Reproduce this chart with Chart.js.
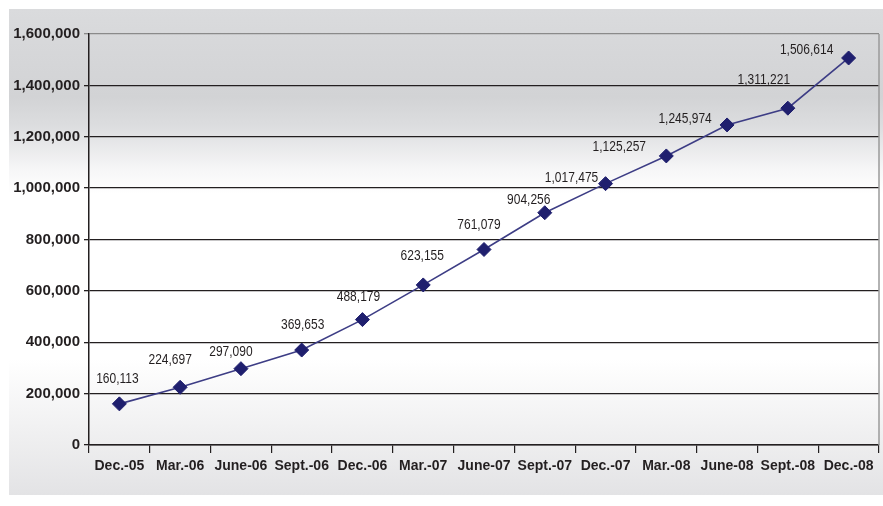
<!DOCTYPE html>
<html>
<head>
<meta charset="utf-8">
<script src="https://cdn.jsdelivr.net/npm/chart.js@4"></script>
<style>
  html,body{margin:0;padding:0;background:#fff;}
  #wrap{width:883px;height:506px;position:relative;}
</style>
</head>
<body>
<div id="wrap"><canvas id="c" width="883" height="506"></canvas></div>
<script>
const categories = ["Dec.-05","Mar.-06","June-06","Sept.-06","Dec.-06","Mar.-07","June-07","Sept.-07","Dec.-07","Mar.-08","June-08","Sept.-08","Dec.-08"];
const subscribers = [160113,224697,297090,369653,488179,623155,761079,904256,1017475,1125257,1245974,1311221,1506614];
const yTicks = [0,200000,400000,600000,800000,1000000,1200000,1400000,1600000];

// label placement offsets (px) relative to each point
const labelOffsets = [[-2,-25],[-10,-27],[-10,-17],[1,-25],[-4,-23],[-1,-29],[-5,-25],[-16,-13],[-34,-6],[-47,-9],[-42,-6],[-24,-28],[-42,-8]];

const bgPlugin = {
  id:'bg',
  beforeDraw(chart){
    const ctx = chart.ctx;
    ctx.save();
    ctx.fillStyle = '#ffffff';
    ctx.fillRect(0,0,chart.width,chart.height);
    const g = ctx.createLinearGradient(0,9,0,495);
    g.addColorStop(0.00,'#dadbdd');
    g.addColorStop(0.18,'#d2d3d5');
    g.addColorStop(0.24,'#dcdddf');
    g.addColorStop(0.33,'#f6f6f7');
    g.addColorStop(0.38,'#ffffff');
    g.addColorStop(0.72,'#ffffff');
    g.addColorStop(0.86,'#f1f1f2');
    g.addColorStop(1.00,'#e3e3e5');
    ctx.fillStyle = g;
    ctx.fillRect(9,9,874,486);
    ctx.restore();
  },
  afterDatasetsDraw(chart){
    const ctx = chart.ctx, a = chart.chartArea;
    ctx.save();
    ctx.strokeStyle = '#9a9a9a';
    ctx.lineWidth = 1.5;
    ctx.beginPath();
    ctx.moveTo(a.right, a.top);
    ctx.lineTo(a.right, a.bottom);
    ctx.stroke();
    // data labels (condensed look)
    const meta = chart.getDatasetMeta(0);
    ctx.font = '15px "Liberation Sans", Arial, sans-serif';
    ctx.fillStyle = '#231f20';
    ctx.textAlign = 'center';
    ctx.textBaseline = 'middle';
    const sx = 0.8;
    meta.data.forEach((pt,i)=>{
      const off = labelOffsets[i] || [0,-22];
      ctx.save();
      ctx.translate(pt.x + off[0], pt.y + off[1]);
      ctx.scale(sx,1);
      ctx.fillText(subscribers[i].toLocaleString('en-US'), 0, 0);
      ctx.restore();
    });
    ctx.restore();
  }
};

new Chart(document.getElementById('c'), {
  type:'line',
  data:{
    labels:categories,
    datasets:[{
      data:subscribers,
      borderColor:'#3d3d85',
      borderWidth:1.6,
      backgroundColor:'#1f1f6e',
      pointStyle:'rectRot',
      pointRadius:7,
      pointHoverRadius:7,
      pointBackgroundColor:'#1f1f6e',
      pointBorderColor:'#1f1f6e',
      pointBorderWidth:1,
      tension:0,
      fill:false
    }]
  },
  options:{
    responsive:false,
    animation:false,
    devicePixelRatio:1,
    layout:{autoPadding:false,padding:{left:0,right:4,top:34,bottom:0}},
    plugins:{legend:{display:false},tooltip:{enabled:false}},
    scales:{
      x:{
        offset:true,
        grid:{drawOnChartArea:false,offset:true,tickLength:8,color:'#231f20',lineWidth:1.2},
        border:{color:'#231f20',width:1.5},
        ticks:{color:'#231f20',font:{family:'"Liberation Sans", Arial, sans-serif',size:14,weight:'bold'},padding:5,maxRotation:0,autoSkip:false},
        afterFit(s){ s.height = 61; s.paddingRight = 0; s.paddingLeft = 0; }
      },
      y:{
        min:0,max:1600000,
        afterBuildTicks(s){ s.ticks = yTicks.map(v=>({value:v})); },
        grid:{
          color:(c)=> c.tick && c.tick.value===1600000 ? '#8a8a8a' : '#231f20',
          lineWidth:1.3,
          tickLength:5
        },
        border:{color:'#231f20',width:1.5},
        ticks:{color:'#231f20',font:{family:'"Liberation Sans", Arial, sans-serif',size:15,weight:'bold'},padding:4,
          callback:(v)=>Number(v).toLocaleString('en-US')},
        afterFit(s){ s.width = 89; s.paddingTop = 0; s.paddingBottom = 0; }
      }
    }
  },
  plugins:[bgPlugin]
});
</script>
</body>
</html>
